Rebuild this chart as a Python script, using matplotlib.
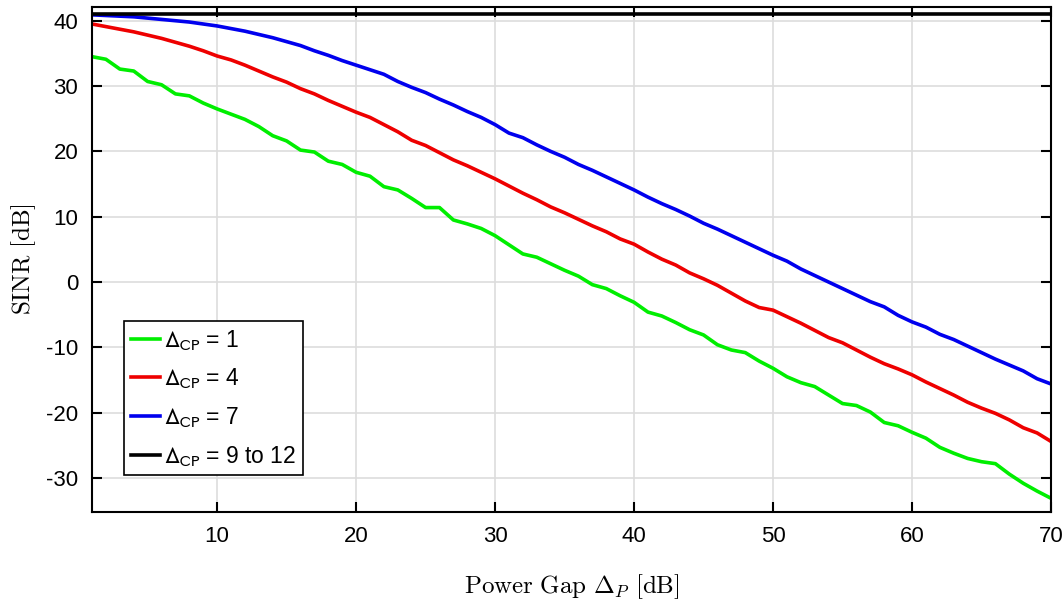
import numpy as np
import matplotlib
matplotlib.use('Agg')
import matplotlib.pyplot as plt
from matplotlib.font_manager import FontProperties

plt.rcParams['font.family'] = 'Liberation Sans'
plt.rcParams['mathtext.fontset'] = 'cm'
plt.rcParams['axes.unicode_minus'] = False

gap = np.arange(1, 71)

sinr_cp1 = [34.5, 34.1, 32.6, 32.3, 30.7, 30.2, 28.8, 28.5, 27.4, 26.5,
            25.7, 24.9, 23.8, 22.4, 21.6, 20.2, 19.9, 18.5, 18.0, 16.8,
            16.2, 14.6, 14.1, 12.8, 11.4, 11.4, 9.5, 8.9, 8.2, 7.1,
            5.7, 4.3, 3.8, 2.8, 1.8, 0.9, -0.4, -1.0, -2.1, -3.1,
            -4.6, -5.2, -6.2, -7.3, -8.1, -9.6, -10.4, -10.8, -12.1, -13.2,
            -14.5, -15.4, -16.0, -17.3, -18.6, -18.9, -19.9, -21.5, -22.0, -23.0,
            -23.9, -25.3, -26.2, -27.0, -27.5, -27.8, -29.4, -30.8, -32.0, -33.1]

sinr_cp4 = [39.5, 39.1, 38.7, 38.3, 37.8, 37.3, 36.7, 36.1, 35.4, 34.6,
            34.0, 33.2, 32.3, 31.4, 30.6, 29.6, 28.8, 27.8, 26.9, 26.0,
            25.2, 24.1, 23.0, 21.7, 20.9, 19.8, 18.7, 17.8, 16.8, 15.8,
            14.7, 13.6, 12.6, 11.5, 10.6, 9.6, 8.6, 7.7, 6.6, 5.8,
            4.6, 3.5, 2.6, 1.4, 0.5, -0.5, -1.7, -2.9, -3.9, -4.3,
            -5.3, -6.3, -7.4, -8.5, -9.3, -10.4, -11.5, -12.5, -13.3, -14.2,
            -15.3, -16.3, -17.3, -18.4, -19.3, -20.1, -21.1, -22.3, -23.1, -24.4]

sinr_cp7 = [40.9, 40.8, 40.7, 40.6, 40.4, 40.2, 40.0, 39.8, 39.5, 39.2,
            38.8, 38.4, 37.9, 37.4, 36.8, 36.2, 35.4, 34.7, 33.9, 33.2,
            32.5, 31.8, 30.7, 29.8, 29.0, 28.0, 27.1, 26.1, 25.2, 24.1,
            22.8, 22.1, 21.0, 20.0, 19.1, 18.0, 17.1, 16.1, 15.1, 14.1,
            13.0, 12.0, 11.1, 10.1, 9.0, 8.1, 7.1, 6.1, 5.1, 4.1,
            3.2, 2.0, 1.0, 0.0, -1.0, -2.0, -3.0, -3.8, -5.1, -6.1,
            -6.9, -8.0, -8.8, -9.8, -10.8, -11.8, -12.7, -13.6, -14.8, -15.6]

sinr_cp9_12 = [41.0] * 70

labels = [r'$\Delta_{\mathrm{CP}}$ = 1', r'$\Delta_{\mathrm{CP}}$ = 4',
          r'$\Delta_{\mathrm{CP}}$ = 7', r'$\Delta_{\mathrm{CP}}$ = 9 to 12']
colors = ['#00ee00', '#ee0000', '#0000ee', 'black']

fig = plt.figure(figsize=(10.64, 6.04), dpi=100)
ax = fig.add_axes([0.0865, 0.1523, 0.9013, 0.8361])

for ys, c, lab in zip([sinr_cp1, sinr_cp4, sinr_cp7, sinr_cp9_12], colors, labels):
    ax.plot(gap, ys, color=c, lw=2.6, label=lab)

ax.set_xlim(1, 70)
ax.set_ylim(-35.2, 42.1)
ax.set_xticks([10, 20, 30, 40, 50, 60, 70])
ax.set_yticks([-30, -20, -10, 0, 10, 20, 30, 40])
ax.grid(True, color='#dddddd', lw=1.2)
ax.set_axisbelow(True)
ax.tick_params(direction='in', length=7, width=1.5, top=True, right=True,
               labelsize=16, pad=10)
for s in ax.spines.values():
    s.set_linewidth(1.5)

ax.set_xlabel(r'$\mathrm{Power\ Gap}\ \Delta_P\ \mathrm{[dB]}$', fontsize=18, labelpad=18)
ax.set_ylabel(r'$\mathrm{SINR\ [dB]}$', fontsize=18, labelpad=6)

leg_font = FontProperties(family='Liberation Sans', size=16.5, math_fontfamily='stixsans')
leg = ax.legend(loc='lower left', bbox_to_anchor=(0.033, 0.073), borderaxespad=0,
                prop=leg_font, handlelength=1.3, handletextpad=0.15,
                labelspacing=0.65, borderpad=0.3, fancybox=False, framealpha=1)
leg.get_frame().set_edgecolor('black')
leg.get_frame().set_linewidth(1.2)

fig.savefig('out.png', dpi=100)
